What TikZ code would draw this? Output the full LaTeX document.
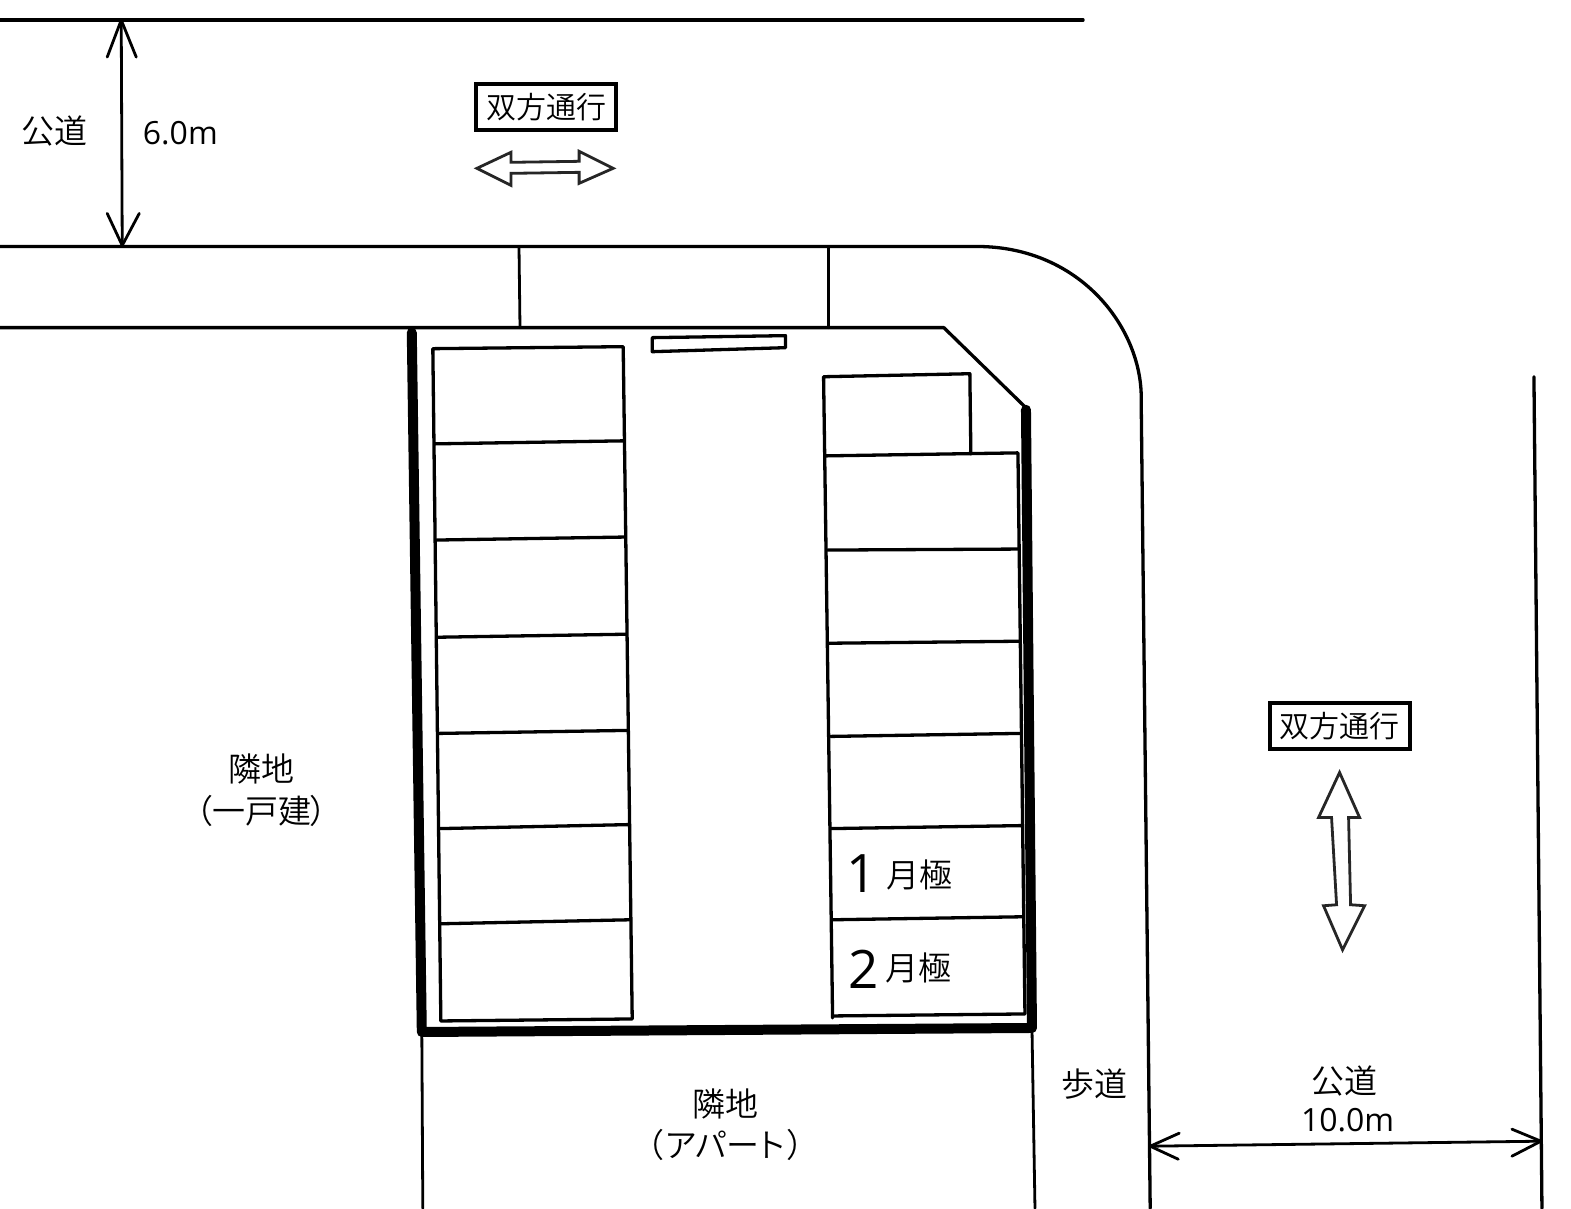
\documentclass[tikz,border=0pt]{standalone}
\usepackage{fontspec}
\setmainfont{Noto Sans CJK JP DemiLight}
\newfontfamily\cjkp[RawFeature=+palt]{Noto Sans CJK JP DemiLight}
\newfontfamily\latn{Open Sans}
\tikzset{
  x=1.002pt,y=-1.002pt,
  ln/.style={line width=3.3pt,line cap=round,line join=round},
  fine/.style={line width=2.8pt,line cap=round,line join=round},
  thick wall/.style={line width=10pt,line cap=round,line join=round},
  label/.style={inner sep=0pt,font=\fontsize{33}{36}\selectfont,align=center},
  dim/.style={inner sep=0pt,font=\latn\fontsize{32}{36}\selectfont},
  big/.style={inner sep=0pt,font=\latn\fontsize{53}{60}\selectfont},
  sign/.style={draw,line width=4pt,minimum width=140pt,minimum height=46pt,inner sep=0pt,font=\fontsize{30}{36}\selectfont},
  block/.style={draw=black!85,line width=2.8pt,line join=miter,fill=white},
}
\begin{document}
\begin{tikzpicture}
\useasboundingbox (0,0) rectangle (1568,1206);
\clip (0,0) rectangle (1568,1206);
% roads
\draw[ln] (0,20) -- (1081,20);
\draw[ln] (0,246) -- (975,246) .. controls (1080,246) and (1141,330) .. (1139,400) -- (1148,1206);
\draw[ln] (0,327) -- (942,327) -- (1024,407);
\draw[fine] (518,246) -- (519,327);
\draw[fine] (827,246) -- (827,327);
\draw[ln] (1531,376) -- (1539,1206);
\draw[fine] (421,1030) -- (422,1206);
\draw[fine] (1030,1026) -- (1033,1206);
% left stalls
\draw[ln] (432,348) -- (622,346) -- (631,1017) -- (440,1019) -- cycle;
\draw[ln] (434,443) -- (622,440);
\draw[ln] (436,539) -- (624,536);
\draw[ln] (437,636) -- (625,633);
\draw[ln] (438,732) -- (626,729);
\draw[ln] (439,827) -- (628,823);
\draw[ln] (440,922) -- (629,918);
% right stalls
\draw[ln] (831,1016) -- (822,376) -- (968,373) -- (969,453);
\draw[ln] (824,455) -- (1016,452) -- (1023,1012) -- (831,1014);
\draw[ln] (826,549) -- (1016,548);
\draw[ln] (827,642) -- (1017,640);
\draw[ln] (829,735) -- (1018,732);
\draw[ln] (829,827) -- (1020,824);
\draw[ln] (831,918) -- (1021,915);
% signboard on the lot
\draw[ln] (651,337) -- (784,335) -- (784,347) -- (651,351) -- cycle;
% boundary walls
\draw[thick wall] (411,332) -- (421,1030) -- (1030,1026) -- (1024,409);
% dimension arrows
\coordinate (d1a) at (121,20); \coordinate (d1b) at (122,245);
\coordinate (d2a) at (1148,1144); \coordinate (d2b) at (1538,1139);
\draw[fine] (d1a) -- (d1b);
\draw[fine] (107,57) -- (d1a) -- (136,57);
\draw[fine] (107,213) -- (d1b) -- (139,213);
\draw[fine] (d2a) -- (d2b);
\draw[fine] (1177,1131) -- (d2a) -- (1176,1157);
\draw[fine] (1509,1127) -- (d2b) -- (1509,1154);
% block arrows
\draw[block] (476,168) -- (510,152) -- (510,162) -- (578,161) -- (578,151) -- (612,168) -- (578,183) -- (578,172) -- (510,173) -- (510,185) -- cycle;
\draw[block] (1337,771) -- (1357,816) -- (1346,816) -- (1348,903) -- (1362,904) -- (1340,948) -- (1321,904) -- (1334,903) -- (1329,816) -- (1316,816) -- cycle;
% labels
\node[sign] (s1) at (545,107) {双方通行};
\node[sign] (s2) at (1337,725) {双方通行};
\node[label] (r1) at (54,131) {公道};
\node[dim] (w1) at (180,133) {6.0m};
\node[label] (n1) at (261,767) {隣地};
\node[label] (n1b) at (261,809) {\cjkp （一戸建）};
\node[label] (n2) at (724,1102) {隣地};
\node[label] (n2b) at (724,1143) {\cjkp （\kern3pt アパート\kern3pt ）};
\node[label] (sw) at (1092,1082) {歩道};
\node[label] (r2) at (1342,1079) {公道};
\node[dim] (w2) at (1345,1118) {10.0m};
\node[big] (a) at (860,872) {1};
\node[label] (am) at (918,873) {月極};
\node[big] (b) at (862,967) {2};
\node[label] (bm) at (917,966) {月極};
\end{tikzpicture}
\end{document}
